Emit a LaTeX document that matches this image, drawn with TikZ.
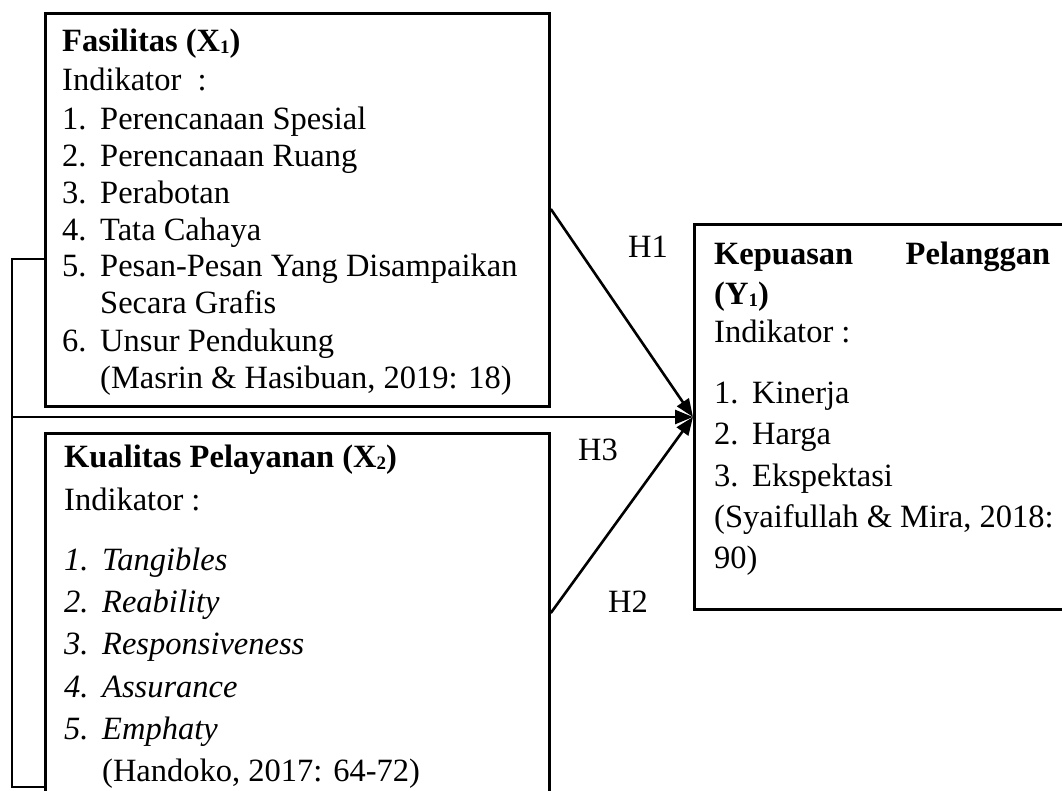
\documentclass[tikz,border=0pt]{standalone}
\usepackage{fontspec}
\setmainfont{Liberation Serif}
\usetikzlibrary{arrows.meta}
\newcommand{\sbnum}[1]{\raisebox{-2pt}{\fontsize{19}{19}\selectfont #1}}
\tikzset{
  boxline/.style={draw=black, line width=2.8pt},
  txt/.style={anchor=base west, inner sep=0pt, font=\fontsize{32.5}{37}\selectfont},
  lbl/.style={anchor=base, inner sep=0pt, font=\fontsize{32.5}{37}\selectfont},
  conn/.style={draw=black, line width=2.6pt, -{Triangle[length=18pt,width=14pt]}},
  plain/.style={draw=black, line width=2.8pt},
}
\begin{document}
\begin{tikzpicture}[x=1pt,y=-1pt]
\useasboundingbox (0,0) rectangle (1062,791);
\clip (0,0) rectangle (1062,791);
\fill[white] (0,0) rectangle (1062,791);
% boxes
\node[boxline, anchor=north west, minimum width=504pt, minimum height=393pt, inner sep=0pt] (fas) at (44,12) {};
\node[boxline, anchor=north west, minimum width=504pt, minimum height=380pt, inner sep=0pt] (kua) at (44,432) {};
\node[boxline, anchor=north west, minimum width=400pt, minimum height=385pt, inner sep=0pt] (kep) at (693,223) {};
% box 1 text
\node[txt] (f0) at (62,52) {\textbf{Fasilitas (X\sbnum{1})}};
\node[txt] (f1) at (62,91) {Indikator~~:};
\node[txt] (f2n) at (62,130) {1.}; \node[txt] (f2) at (100,130) {Perencanaan Spesial};
\node[txt] (f3n) at (62,167) {2.}; \node[txt] (f3) at (100,167) {Perencanaan Ruang};
\node[txt] (f4n) at (62,204) {3.}; \node[txt] (f4) at (100,204) {Perabotan};
\node[txt] (f5n) at (62,241) {4.}; \node[txt] (f5) at (100,241) {Tata Cahaya};
\node[txt] (f6n) at (62,277) {5.}; \node[txt] (f6) at (100,277) {Pesan-Pesan Yang Disampaikan};
\node[txt] (f7) at (100,314) {Secara Grafis};
\node[txt] (f8n) at (62,352) {6.}; \node[txt] (f8) at (100,352) {Unsur Pendukung};
\node[txt] (f9) at (100,388) {(Masrin \& Hasibuan, 2019: 18)};
% box 2 text
\node[txt] (k0) at (64,467) {\textbf{Kualitas Pelayanan (X\sbnum{2})}};
\node[txt] (k1) at (64,510) {Indikator :};
\node[txt] (k2n) at (64,570) {\itshape 1.}; \node[txt] (k2) at (102,570) {\itshape Tangibles};
\node[txt] (k3n) at (64,612) {\itshape 2.}; \node[txt] (k3) at (102,612) {\itshape Reability};
\node[txt] (k4n) at (64,654) {\itshape 3.}; \node[txt] (k4) at (102,654) {\itshape Responsiveness};
\node[txt] (k5n) at (64,697) {\itshape 4.}; \node[txt] (k5) at (102,697) {\itshape Assurance};
\node[txt] (k6n) at (64,739) {\itshape 5.}; \node[txt] (k6) at (102,739) {\itshape Emphaty};
\node[txt] (k7) at (102,781) {(Handoko, 2017: 64-72)};
% box 3 text
\node[txt] (y0) at (714,265) {\hbox to 336pt{\textbf{Kepuasan}\hfill\textbf{Pelanggan}}};
\node[txt] (y1) at (714,305) {\textbf{(Y\sbnum{1})}};
\node[txt] (y2) at (714,342) {Indikator :};
\node[txt] (y3n) at (714,403) {1.}; \node[txt] (y3) at (752,403) {Kinerja};
\node[txt] (y4n) at (714,444) {2.}; \node[txt] (y4) at (752,444) {Harga};
\node[txt] (y5n) at (714,486) {3.}; \node[txt] (y5) at (752,486) {Ekspektasi};
\node[txt] (y6) at (714,527) {(Syaifullah \& Mira, 2018:};
\node[txt] (y7) at (714,568) {90)};
% labels
\node[lbl] (h1) at (648,258) {H1};
\node[lbl] (h3) at (598,460) {H3};
\node[lbl] (h2) at (628,612) {H2};
% connector points
\coordinate (tip) at (kep.west |- 0,417);
\coordinate (h1s) at (fas.east |- 0,209);
\coordinate (h2s) at (kua.east |- 0,613);
\coordinate (brT) at (fas.west |- 0,259);
\coordinate (brB) at (kua.west |- 0,787);
\coordinate (brx) at (12,0);
% bracket and connectors
\draw[plain] (brT) -- (brx |- brT) -- (brx |- brB) -- (brB);
\draw[conn] (brx |- tip) -- (tip);
\draw[conn] (h1s) -- (tip);
\draw[conn] (h2s) -- (tip);
\end{tikzpicture}
\end{document}
